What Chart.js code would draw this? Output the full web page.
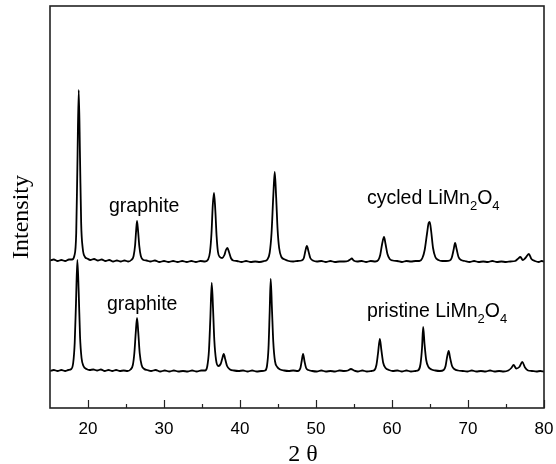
<!DOCTYPE html>
<html>
<head>
<meta charset="utf-8">
<script src="https://cdn.jsdelivr.net/npm/chart.js"></script>
<style>
  html, body { margin: 0; padding: 0; background: #fff; }
  #wrap { width: 556px; height: 464px; }
</style>
</head>
<body>
<div id="wrap"><canvas id="xrd" width="556" height="464"></canvas></div>
<script>
// 2-theta positions and intensities (arbitrary units)
var cycledX = [15.0, 15.5, 16.0, 16.5, 17.0, 17.5, 17.9,
  18.2, 18.45, 18.6, 18.78, 18.95, 19.1, 19.3, 19.6, 19.9, 20.3, 20.8, 21.3, 21.8, 22.3, 22.8, 23.3, 23.8, 24.3, 24.8, 25.3, 25.7,
  26.0, 26.2, 26.32, 26.45, 26.6, 26.75, 26.95, 27.3, 27.7, 28.2, 28.8, 29.4, 30, 30.6, 31.2, 31.8, 32.4, 33, 33.6, 34.2, 34.8, 35.4, 35.8,
  36.05, 36.25, 36.42, 36.58, 36.75, 36.92, 37.1, 37.35, 37.65, 37.95, 38.15, 38.34, 38.55, 38.8, 39.1, 39.6, 40.2, 40.8, 41.4, 42, 42.6, 43.2, 43.6,
  43.9, 44.15, 44.38, 44.57, 44.75, 44.95, 45.15, 45.45, 45.9, 46.4, 47, 47.6, 48.1, 48.4, 48.6, 48.8, 49.0, 49.25, 49.6, 50.1, 50.7, 51.3, 51.9, 52.5, 53.1, 53.7, 54.2, 54.5, 54.7, 54.95, 55.4, 56, 56.6, 57.2, 57.8, 58.2,
  58.45, 58.7, 58.95, 59.15, 59.4, 59.7, 60.1, 60.7, 61.3, 61.9, 62.5, 63.1, 63.6, 64.0, 64.3, 64.6, 64.82, 64.96, 65.15, 65.4, 65.7, 66.1, 66.6, 67.1, 67.6,
  67.85, 68.1, 68.3, 68.5, 68.75, 69.1, 69.6, 70.2, 70.8, 71.4, 72, 72.6, 73.2, 73.8, 74.4, 75, 75.6, 76.2, 76.55, 76.9, 77.2, 77.55, 78.0, 78.35, 78.8, 79.3, 79.7, 80];
var cycledY = [147.5, 148.5, 147, 148, 147, 148.5, 148.5,
  152, 175, 240, 318, 250, 185, 160, 151, 149.5, 148, 149, 147.5, 148.5, 147, 148, 146.5, 147.5, 146.5, 147.5, 146.5, 148,
  152, 163, 176, 187, 176, 162, 152, 148, 147.5, 146.5, 147.5, 146, 147, 146, 147, 146, 147, 146, 147, 146, 147, 146.5, 148.5,
  156, 175, 203, 215, 198, 172, 156, 151, 150, 153, 158, 160, 156, 150, 147.5, 147, 146, 147, 146, 146.5, 146, 147, 148.5,
  155, 175, 212, 236, 212, 178, 160, 151, 148.5, 147, 146.5, 147, 147.5, 150, 157, 162, 157, 150, 147.5, 146.5, 147, 146, 147, 146, 146.5, 146.5, 147, 148.5, 149.5, 147.5, 146.5, 147, 146, 147, 146.5, 148,
  153, 164, 171, 164, 154, 149, 147.5, 147, 146, 147, 146.5, 147, 147, 150, 158, 174, 185, 186, 177, 160, 151, 148, 147, 147, 147.5,
  150, 158, 165, 159, 151, 148, 147, 146, 147, 146, 146.5, 146, 147, 146, 146.5, 146, 146.5, 147, 149, 151, 148, 150, 154, 149, 147, 146, 147, 146.5];

var pristineX = [15, 15.5, 16, 16.5, 17, 17.4, 17.8,
  18.05, 18.25, 18.42, 18.6, 18.78, 18.95, 19.15, 19.4, 19.8, 20.2, 20.7, 21.2, 21.7, 22.2, 22.7, 23.2, 23.7, 24.2, 24.7, 25.2, 25.6,
  25.9, 26.1, 26.28, 26.45, 26.62, 26.8, 27.05, 27.4, 27.8, 28.3, 28.9, 29.5, 30.1, 30.7, 31.3, 31.9, 32.5, 33.1, 33.7, 34.3, 34.9, 35.4,
  35.7, 35.92, 36.1, 36.28, 36.45, 36.62, 36.85, 37.15, 37.45, 37.65, 37.86, 38.05, 38.3, 38.7, 39.2, 39.8, 40.4, 41, 41.6, 42.2, 42.8, 43.3,
  43.55, 43.75, 43.9, 44.04, 44.2, 44.38, 44.6, 44.9, 45.3, 45.8, 46.4, 47, 47.6, 47.95, 48.12, 48.3, 48.48, 48.7, 49.0, 49.5, 50.1, 50.7, 51.3, 51.9, 52.5, 53.1, 53.7, 54.2, 54.6, 55, 55.5, 56.1, 56.7, 57.3, 57.7,
  57.95, 58.15, 58.4, 58.6, 58.85, 59.15, 59.6, 60.1, 60.7, 61.3, 61.9, 62.5, 63.1, 63.5,
  63.75, 63.95, 64.1, 64.28, 64.5, 64.8, 65.2, 65.7, 66.3, 66.8, 67.05, 67.25, 67.46, 67.65, 67.9, 68.2, 68.7, 69.3, 69.9, 70.5, 71.1, 71.7, 72.3, 72.9, 73.5, 74.1, 74.7,
  75.3, 75.7, 76.0, 76.35, 76.75, 77.15, 77.5, 77.9, 78.4, 79, 79.5, 80];
var pristineY = [37, 38, 37, 38, 37, 38, 39,
  45, 65, 105, 148, 115, 72, 50, 42, 39, 38, 38.5, 37.5, 38.5, 37, 38, 37, 38, 37, 37.5, 37, 38.5,
  43, 55, 75, 90, 75, 55, 43, 39, 38, 37, 38, 36.5, 37.5, 36.5, 37.5, 36.5, 37, 36.5, 37.5, 36.5, 37.5, 37.5,
  42, 58, 90, 125, 100, 68, 48, 42, 44, 49, 54, 49, 42, 38.5, 37.5, 37, 37.5, 36.5, 37.5, 36.5, 37, 37.5,
  42, 60, 95, 129, 100, 66, 47, 41, 38.5, 37.5, 37, 37.5, 37, 40, 47, 54, 47, 40, 38, 37, 36.5, 37.5, 36.5, 37, 36.5, 37.5, 37, 37.5, 39, 37.5, 36.5, 37.5, 36.5, 37, 38,
  43, 54, 69, 58, 45, 40, 38, 37, 37.5, 36.5, 37.5, 36.5, 37, 38,
  44, 60, 81, 64, 48, 41, 38.5, 37.5, 37, 38, 42, 51, 57, 50, 42, 39, 37.5, 37, 36.5, 37.5, 36.5, 37, 36.5, 37.5, 36.5, 37, 36.5,
  37.5, 40, 43, 39.5, 41, 46, 40.5, 37.5, 37, 36.5, 37, 36.5];

var xTickValues = [20, 30, 40, 50, 60, 70, 80];
var xMinorTicks = [25, 35, 45, 55, 65, 75];

function toPoints(xs, ys) {
  return xs.map(function (x, i) { return { x: x, y: ys[i] }; });
}

var sansFont = "'Liberation Sans', Arial, sans-serif";
var serifFont = "'Liberation Serif', 'Times New Roman', serif";

// frame, inward ticks and the text labels
var decorPlugin = {
  id: "decor",
  afterDraw: function (chart) {
    var ctx = chart.ctx;
    var a = chart.chartArea;
    var xs = chart.scales.x;
    ctx.save();
    ctx.strokeStyle = "#222";
    ctx.lineWidth = 1.6;
    ctx.strokeRect(a.left, a.top, a.right - a.left, a.bottom - a.top);
    ctx.beginPath();
    xTickValues.forEach(function (v) {
      var px = Math.round(xs.getPixelForValue(v)) + 0.5;
      ctx.moveTo(px, a.bottom);
      ctx.lineTo(px, a.bottom - 8);
    });
    xMinorTicks.forEach(function (v) {
      var px = Math.round(xs.getPixelForValue(v)) + 0.5;
      ctx.moveTo(px, a.bottom);
      ctx.lineTo(px, a.bottom - 4);
    });
    ctx.lineWidth = 1.2;
    ctx.stroke();

    ctx.fillStyle = "#000";
    ctx.textBaseline = "alphabetic";
    ctx.textAlign = "left";
    ctx.font = "19.5px " + sansFont;
    ctx.fillText("graphite", 109, 212);
    ctx.fillText("graphite", 107, 310);

    function formula(prefix, x, y) {
      ctx.font = "19.5px " + sansFont;
      ctx.fillText(prefix, x, y);
      x += ctx.measureText(prefix).width;
      ctx.font = "13px " + sansFont;
      ctx.fillText("2", x, y + 6);
      x += ctx.measureText("2").width;
      ctx.font = "19.5px " + sansFont;
      ctx.fillText("O", x, y);
      x += ctx.measureText("O").width;
      ctx.font = "13px " + sansFont;
      ctx.fillText("4", x, y + 6);
    }
    formula("cycled LiMn", 367, 204);
    formula("pristine LiMn", 367, 317);

    ctx.font = "24px " + serifFont;
    ctx.textAlign = "center";
    ctx.fillText("2 \u03b8", 303, 461);

    ctx.translate(28, 217);
    ctx.rotate(-Math.PI / 2);
    ctx.fillText("Intensity", 0, 0);
    ctx.restore();
  }
};

var lineStyle = {
  borderColor: "#000",
  borderWidth: 1.8,
  pointRadius: 0,
  cubicInterpolationMode: "monotone",
  fill: false,
};

var chart = new Chart(document.getElementById("xrd").getContext("2d"), {
  type: "line",
  data: {
    datasets: [
      Object.assign({ label: "cycled", data: toPoints(cycledX, cycledY) }, lineStyle),
      Object.assign({ label: "pristine", data: toPoints(pristineX, pristineY) }, lineStyle),
    ],
  },
  options: {
    responsive: false,
    animation: false,
    events: [],
    layout: { padding: { left: 50, right: 12, top: 6, bottom: 0 } },
    plugins: { legend: { display: false }, tooltip: { enabled: false } },
    scales: {
      x: {
        type: "linear",
        min: 15,
        max: 80,
        grid: { display: false, drawTicks: false },
        border: { display: false },
        afterBuildTicks: function (scale) {
          scale.ticks = xTickValues.map(function (v) { return { value: v }; });
        },
        afterFit: function (scale) {
          scale.height = 56;
          scale.paddingLeft = 0;
          scale.paddingRight = 0;
        },
        ticks: {
          maxRotation: 0,
          padding: 11,
          color: "#000",
          font: { family: sansFont, size: 17 },
        },
      },
      y: {
        display: false,
        min: 0,
        max: 402,
      },
    },
  },
  plugins: [decorPlugin],
});
</script>
</body>
</html>
